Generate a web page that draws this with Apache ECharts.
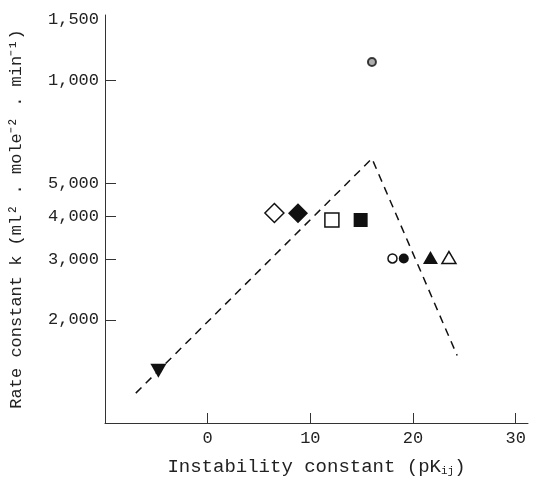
<!DOCTYPE html>
<html>
<head>
<meta charset="utf-8">
<script src="https://cdn.jsdelivr.net/npm/echarts@6/dist/echarts.min.js"></script>
<style>
  html, body { margin: 0; padding: 0; background: #fff; }
  #chart { width: 540px; height: 484px; }
</style>
</head>
<body>
<div id="chart"></div>
<script>
// values (x = pK, k on log scale)
const xTicks = [0, 10, 20, 30];
const yTickValues = [2000, 3000, 4000, 5000, 10000];
const yLabelValues = [2000, 3000, 4000, 5000, 10000, 15000];
const yLabelTexts = ['2,000', '3,000', '4,000', '5,000', '1,000', '1,500'];

const trendLine = [[-7.0, 1222], [16.0, 5910], [24.3, 1573]];
const filledDownTriangle = [[-4.8, 1420]];
const ringCircle = [[16.0, 11300]];
const openDiamond = [[6.5, 4100]];
const filledDiamond = [[8.8, 4090]];
const openSquare = [[12.1, 3910]];
const filledSquare = [[14.9, 3910]];
const openCircle = [[18.0, 3020]];
const filledCircle = [[19.1, 3020]];
const filledTriangle = [[21.7, 3040]];
const openTriangle = [[23.5, 3040]];

const lg = pts => pts.map(p => [p[0], Math.log10(p[1])]);
const font = 'Liberation Mono';

function markers(data, symbol, filled, size, rotate) {
  return {
    type: 'scatter',
    data: lg(data),
    symbol: symbol,
    symbolSize: size,
    symbolRotate: rotate || 0,
    itemStyle: {
      color: filled ? '#111' : '#fff',
      borderColor: '#111',
      borderWidth: filled ? 0 : 1.5,
      opacity: 1
    },
    z: 3
  };
}

const chart = echarts.init(document.getElementById('chart'));
chart.setOption({
  animation: false,
  grid: { left: 105, right: 12, top: 15, bottom: 61 },
  textStyle: { fontFamily: font },
  xAxis: {
    type: 'value',
    min: -10,
    max: 31.2,
    name: 'Instability constant (pK{sub|ij})',
    nameLocation: 'middle',
    nameGap: 33,
    nameTextStyle: {
      fontFamily: font, fontSize: 19, color: '#222',
      rich: { sub: { fontFamily: font, fontSize: 11, color: '#222', padding: [10, 0, 0, 0] } }
    },
    axisLine: { onZero: false, lineStyle: { color: '#333', width: 1 } },
    axisTick: { show: true, inside: true, length: 10, customValues: xTicks, lineStyle: { color: '#333' } },
    axisLabel: { customValues: xTicks, fontFamily: font, fontSize: 17, color: '#222', margin: 7 },
    splitLine: { show: false }
  },
  yAxis: {
    type: 'value',
    min: 3,
    max: Math.log10(15500),
    name: 'Rate constant k (ml² . mole⁻² . min⁻¹)',
    nameLocation: 'middle',
    nameRotate: 90,
    nameGap: 80,
    nameTextStyle: { fontFamily: font, fontSize: 17, color: '#222' },
    axisLine: { show: true, onZero: false, lineStyle: { color: '#333', width: 1 } },
    axisTick: { show: true, inside: true, length: 11, customValues: yTickValues.map(Math.log10), lineStyle: { color: '#333' } },
    axisLabel: {
      customValues: yLabelValues.map(Math.log10),
      fontFamily: font, fontSize: 17, color: '#222', margin: 6,
      formatter: v => {
        let best = 0;
        yLabelValues.forEach((y, i) => {
          if (Math.abs(Math.log10(y) - v) < Math.abs(Math.log10(yLabelValues[best]) - v)) best = i;
        });
        return yLabelTexts[best];
      }
    },
    splitLine: { show: false }
  },
  series: [
    {
      type: 'line',
      data: lg(trendLine),
      symbol: 'none',
      lineStyle: { color: '#111', width: 1.5, type: [8, 6] },
      z: 2
    },
    markers(filledDownTriangle, 'triangle', true, [16, 14], 180),
    {
      type: 'scatter',
      data: lg(ringCircle),
      symbol: 'circle',
      symbolSize: 8,
      itemStyle: { color: '#999', borderColor: '#111', borderWidth: 2 },
      z: 3
    },
    markers(openDiamond, 'diamond', false, [19, 19]),
    markers(filledDiamond, 'diamond', true, [20, 20]),
    markers(openSquare, 'rect', false, [14, 14]),
    markers(filledSquare, 'rect', true, [14, 14]),
    markers(openCircle, 'circle', false, 9),
    markers(filledCircle, 'circle', true, 10),
    markers(filledTriangle, 'triangle', true, [15, 13]),
    markers(openTriangle, 'triangle', false, [14, 12])
  ]
});
</script>
</body>
</html>
